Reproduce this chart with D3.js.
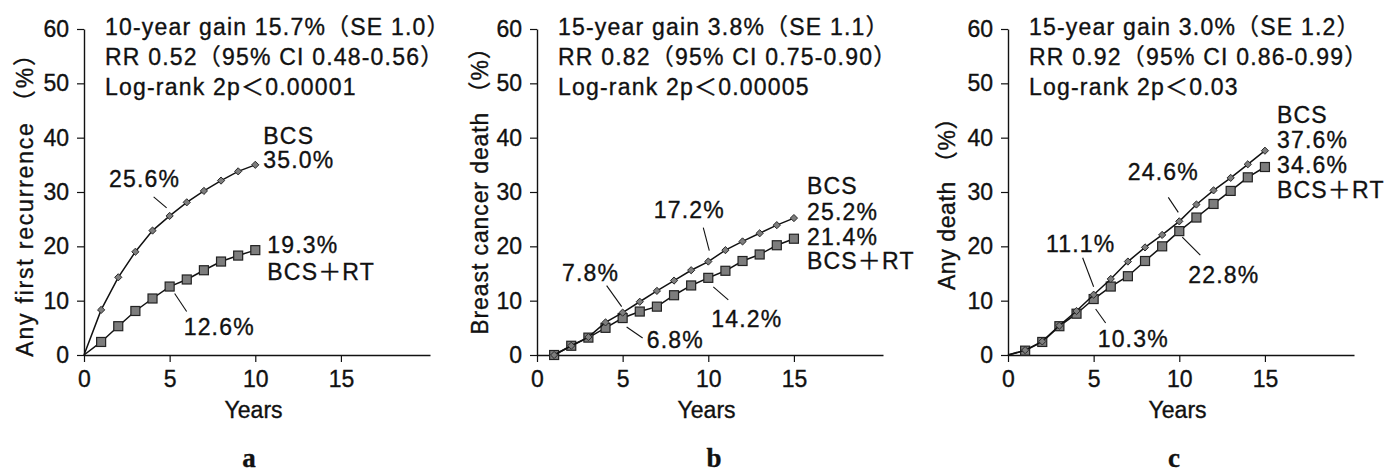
<!DOCTYPE html>
<html>
<head>
<meta charset="utf-8">
<script src="https://cdn.jsdelivr.net/npm/d3@7"></script>
<style>
  html, body { margin: 0; padding: 0; background: #fff; }
  svg text { font-family: "Liberation Sans", Arial, "Noto Sans CJK JP", sans-serif; fill: #111; stroke: #111; stroke-width: 0.35px; }
</style>
</head>
<body>
<svg id="chart" width="1387" height="472"></svg>
<script>
// Panel a: any first recurrence, years 0-10
const yearsA = [0, 1, 2, 3, 4, 5, 6, 7, 8, 9, 10];
const bcsA   = [0, 8.3, 14.3, 19.0, 22.9, 25.6, 28.1, 30.2, 32.1, 33.8, 35.0];
const rtA    = [0, 2.4, 5.3, 8.1, 10.4, 12.6, 13.9, 15.6, 17.2, 18.3, 19.3];

// Panel b: breast cancer death, years 1-15
const yearsB = [1, 2, 3, 4, 5, 6, 7, 8, 9, 10, 11, 12, 13, 14, 15];
const bcsB   = [0, 1.7, 3.3, 6.0, 7.8, 9.8, 11.8, 13.7, 15.6, 17.2, 19.3, 20.9, 22.4, 23.9, 25.2];
const rtB    = [0, 1.7, 3.2, 5.0, 6.8, 8.0, 8.9, 11.0, 12.8, 14.2, 15.5, 17.3, 18.5, 20.2, 21.4];

// Panel c: any death, years 0-15
const yearsC = [0, 1, 2, 3, 4, 5, 6, 7, 8, 9, 10, 11, 12, 13, 14, 15];
const bcsC   = [0, 0.9, 2.5, 5.4, 8.1, 11.1, 14.0, 17.2, 19.8, 22.1, 24.6, 27.7, 30.3, 32.6, 35.1, 37.6];
const rtC    = [0, 0.8, 2.4, 5.3, 7.6, 10.3, 12.6, 14.5, 17.3, 20.0, 22.8, 25.3, 27.8, 30.2, 32.7, 34.6];

const xTicks = [0, 5, 10, 15];
const yTicks = [0, 10, 20, 30, 40, 50, 60];
const yTitles = ["Any first recurrence （%）", "Breast cancer death （%）", "Any death （%）"];
const statLines = [
  ["10-year gain 15.7%（SE 1.0）", "RR 0.52（95% CI 0.48-0.56）", "Log-rank 2p＜0.00001"],
  ["15-year gain 3.8%（SE 1.1）", "RR 0.82（95% CI 0.75-0.90）", "Log-rank 2p＜0.00005"],
  ["15-year gain 3.0%（SE 1.2）", "RR 0.92（95% CI 0.86-0.99）", "Log-rank 2p＜0.03"]
];
const panelLetters = ["a", "b", "c"];
const seriesNames = { bcs: "BCS", rt: "BCS＋RT" };

// layout of each panel
const panels = [
  {
    years: yearsA, bcs: bcsA, rt: rtA, x0: 84, titleY: 199, titleX: 25, titleSpacing: 1.8, letterX: 249,
    notes: [
      { s: "bcs", yr: 5, lx: -25, ly: -29, anchor: "middle", leader: [-16, -19, -3, -8] },
      { s: "rt", yr: 5, lx: 14, ly: 48, anchor: "start", leader: [5, 7, 17, 25] }
    ],
    ends: { bcs: { dx: 8, nameDy: -21, valDy: 3 }, rt: { dx: 12, valDy: 3, nameDy: 30 } }
  },
  {
    years: yearsB, bcs: bcsB, rt: rtB, x0: 537, titleY: 185, titleX: 480, titleSpacing: 0.9, letterX: 714,
    notes: [
      { s: "bcs", yr: 10, lx: -19, ly: -44, anchor: "middle", leader: [-5, -34, 1, -11] },
      { s: "bcs", yr: 5, lx: -32, ly: -32, anchor: "middle", leader: [-16, -27, -1, -6] },
      { s: "rt", yr: 10, lx: 3, ly: 49, anchor: "start", leader: [5, 9, 20, 22] },
      { s: "rt", yr: 5, lx: 24, ly: 30, anchor: "start", leader: [4, 9, 20, 20] }
    ],
    ends: { bcs: { dx: 13, nameDy: -24, valDy: 2 }, rt: { dx: 13, valDy: 6, nameDy: 30 } }
  },
  {
    years: yearsC, bcs: bcsC, rt: rtC, x0: 1008, titleY: 198, titleX: 947, titleSpacing: 0.6, letterX: 1174,
    notes: [
      { s: "bcs", yr: 10, lx: -16, ly: -41, anchor: "middle", leader: [-11, -24, -1, -9] },
      { s: "bcs", yr: 5, lx: -13, ly: -43, anchor: "middle", leader: [-11, -37, 0, -8] },
      { s: "rt", yr: 5, lx: 4, ly: 48, anchor: "start", leader: [2, 10, 12, 24] },
      { s: "rt", yr: 10, lx: 9, ly: 52, anchor: "start", leader: [3, 6, 21, 24] }
    ],
    ends: { bcs: { dx: 12, nameDy: -28, valDy: -3 }, rt: { dx: 12, valDy: 6, nameDy: 31 } }
  }
];

const svg = d3.select("#chart");
const axisLen = 346;
const yTop = 29, yBottom = 355;
const FS = 23;
const LS = 1.2;
const pct = v => v.toFixed(1) + "%";

panels.forEach((p, i) => {
  const x = d3.scaleLinear().domain([0, 20.2]).range([p.x0, p.x0 + axisLen]);
  const y = d3.scaleLinear().domain([0, 60]).range([yBottom, yTop]);
  const g = svg.append("g");

  // axes
  const xAxis = g.append("g")
    .attr("transform", `translate(0,${yBottom})`)
    .call(d3.axisBottom(x).tickValues(xTicks).tickSize(7).tickSizeOuter(0).tickPadding(9));
  const yAxis = g.append("g")
    .attr("transform", `translate(${p.x0},0)`)
    .call(d3.axisLeft(y).tickValues(yTicks).tickSize(7).tickSizeOuter(0).tickPadding(8));
  [xAxis, yAxis].forEach(a => {
    a.select(".domain").attr("stroke", "#111").attr("stroke-width", 1.4);
    a.selectAll(".tick line").attr("stroke", "#111").attr("stroke-width", 1.2);
    a.selectAll(".tick text").attr("font-size", FS).attr("fill", "#111")
      .style("font-family", "'Liberation Sans', Arial, sans-serif");
  });

  // axis titles
  g.append("text")
    .attr("x", x(9.9)).attr("y", 418)
    .attr("text-anchor", "middle").attr("font-size", FS)
    .text("Years");
  g.append("text")
    .attr("transform", `translate(${p.titleX + 8},${p.titleY}) rotate(-90)`)
    .attr("text-anchor", "middle").attr("font-size", FS).attr("letter-spacing", p.titleSpacing)
    .text(yTitles[i]);

  // statistics block
  statLines[i].forEach((t, k) => {
    g.append("text")
      .attr("x", p.x0 + 21).attr("y", 35 + k * 30)
      .attr("font-size", FS).attr("letter-spacing", LS)
      .text(t);
  });

  // curves
  const line = d3.line().x(d => x(d.yr)).y(d => y(d.v));
  const rows = key => p.years.map((yr, k) => ({ yr, v: p[key][k] }));

  ["rt", "bcs"].forEach(key => {
    const data = rows(key);
    g.append("path").datum(data)
      .attr("fill", "none").attr("stroke", "#111").attr("stroke-width", 1.5)
      .attr("d", line);
    const pts = data.filter(d => d.yr > 0);
    if (key === "rt") {
      g.selectAll(null).data(pts).enter().append("rect")
        .attr("x", d => x(d.yr) - 4.5).attr("y", d => y(d.v) - 4.5)
        .attr("width", 9).attr("height", 9)
        .attr("fill", "#7d7d7d").attr("stroke", "#222").attr("stroke-width", 1.2);
    } else {
      g.selectAll(null).data(pts).enter().append("path")
        .attr("d", d => {
          const cx = x(d.yr), cy = y(d.v), r = 3.6;
          return `M${cx},${cy - r}L${cx + r},${cy}L${cx},${cy + r}L${cx - r},${cy}Z`;
        })
        .attr("fill", "#7d7d7d").attr("stroke", "#2a2a2a").attr("stroke-width", 1);
    }
  });

  // end-of-curve labels
  ["bcs", "rt"].forEach(key => {
    const arr = p[key];
    const lastYr = p.years[p.years.length - 1];
    const v = arr[arr.length - 1];
    const e = p.ends[key];
    const px = x(lastYr) + e.dx, py = y(v);
    g.append("text").attr("x", px).attr("y", py + e.nameDy)
      .attr("font-size", FS).attr("letter-spacing", LS).text(seriesNames[key]);
    g.append("text").attr("x", px).attr("y", py + e.valDy)
      .attr("font-size", FS).attr("letter-spacing", LS).text(pct(v));
  });

  // mid-curve value callouts
  p.notes.forEach(n => {
    const v = p[n.s][p.years.indexOf(n.yr)];
    const px = x(n.yr), py = y(v);
    g.append("line")
      .attr("x1", px + n.leader[0]).attr("y1", py + n.leader[1])
      .attr("x2", px + n.leader[2]).attr("y2", py + n.leader[3])
      .attr("stroke", "#111").attr("stroke-width", 1.1);
    g.append("text").attr("x", px + n.lx).attr("y", py + n.ly)
      .attr("text-anchor", n.anchor)
      .attr("font-size", FS).attr("letter-spacing", LS).text(pct(v));
  });

  // panel letter
  g.append("text")
    .attr("x", p.letterX).attr("y", 467)
    .attr("text-anchor", "middle").attr("font-size", 27).attr("font-weight", "bold")
    .style("font-family", "'Liberation Serif', 'Times New Roman', serif")
    .text(panelLetters[i]);
});
</script>
</body>
</html>
